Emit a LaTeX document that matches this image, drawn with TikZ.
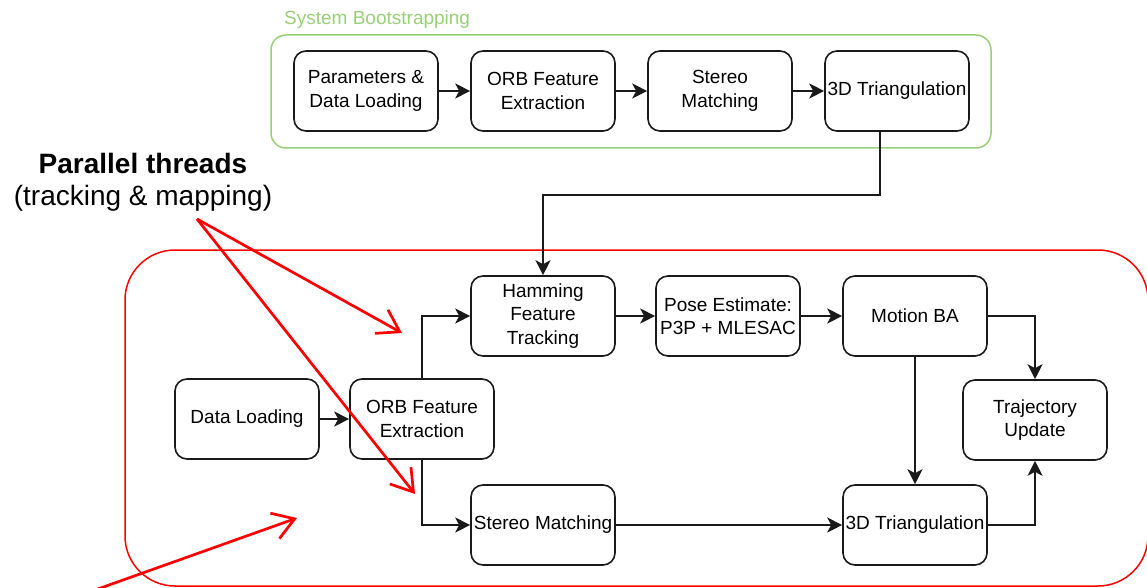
\documentclass[tikz,border=0pt]{standalone}
\usepackage{fontspec}
\setmainfont{Liberation Sans}
\usetikzlibrary{arrows.meta}

\definecolor{bootgreen}{HTML}{97D077}
\definecolor{edge}{HTML}{1A1A1A}

\begin{document}
\begin{tikzpicture}[x=1pt,y=-1pt,
  stage/.style={draw=edge, line width=1.6pt, rounded corners=12pt,
    minimum width=144pt, minimum height=80pt, inner sep=0pt,
    align=center, font=\fontsize{19}{23.5}\selectfont},
  flow/.style={draw=edge, line width=1.6pt,
    -{Stealth[length=15pt,width=15pt,inset=4pt]}},
  groupbox/.style={line width=1.5pt, inner sep=0pt},
  callout/.style={draw=red, line width=2.7pt,
    -{Straight Barb[length=21pt,width=27pt]}},
  note/.style={font=\fontsize{28}{34}\selectfont, inner sep=0pt, anchor=base}
]
\useasboundingbox (0,0) rectangle (1147,588);

% ---- bootstrapping stage ----
\node[groupbox, draw=bootgreen, rounded corners=15pt,
      minimum width=720pt, minimum height=113pt] (boot) at (631,91.5) {};
\node[anchor=base west, inner sep=0pt, text=bootgreen,
      font=\fontsize{19}{23.5}\selectfont] (bootlabel) at (284,25) {System Bootstrapping};

\node[stage] (bp) at (366,91) {Parameters \&\\Data Loading};
\node[stage] (bo) at (543,91) {ORB Feature\\Extraction};
\node[stage] (bs) at (720,91) {Stereo\\Matching};
\node[stage] (bt) at (897,91) {3D Triangulation};

\draw[flow] (bp) -- (bo);
\draw[flow] (bo) -- (bs);
\draw[flow] (bs) -- (bt);

% ---- tracking & mapping threads ----
\node[groupbox, draw=red, rounded corners=50pt,
      minimum width=1023pt, minimum height=336pt] (threads) at (636.5,418) {};

\node[stage] (dl)   at (247,419) {Data Loading};
\node[stage] (orb)  at (422,419) {ORB Feature\\Extraction};
\node[stage] (ham)  at (543,316) {Hamming\\Feature\\Tracking};
\node[stage] (pose) at (728,316) {Pose Estimate:\\P3P + MLESAC};
\node[stage] (mba)  at (915,316) {Motion BA};
\node[stage] (traj) at (1035,420) {Trajectory\\Update};
\node[stage] (sm)   at (543,525) {Stereo Matching};
\node[stage] (tri)  at (915,525) {3D Triangulation};

\draw[flow] ([xshift=-17pt]bt.south) -- ++(0,63) -| (ham.north);
\draw[flow] (dl) -- (orb);
\draw[flow] (orb.north) |- (ham.west);
\draw[flow] (orb.south) |- (sm.west);
\draw[flow] (ham) -- (pose);
\draw[flow] (pose) -- (mba);
\draw[flow] (mba.east) -| (traj.north);
\draw[flow] (mba) -- (tri);
\draw[flow] (sm) -- (tri);
\draw[flow] (tri.east) -| (traj.south);

% ---- annotation ----
\node[note, font=\bfseries\fontsize{28}{34}\selectfont] (pt) at (143,173) {Parallel threads};
\node[note] (ptsub) at (143,205) {(tracking \& mapping)};

\coordinate (src)  at (197,219);
\coordinate (tipA) at (402,333);
\coordinate (tipB) at (415,494);
\coordinate (tail) at (95,590);
\coordinate (tipC) at (297,518);

\draw[callout] (src) -- (tipA);
\draw[callout] (src) -- (tipB);
\draw[callout] (tail) -- (tipC);
\end{tikzpicture}
\end{document}
